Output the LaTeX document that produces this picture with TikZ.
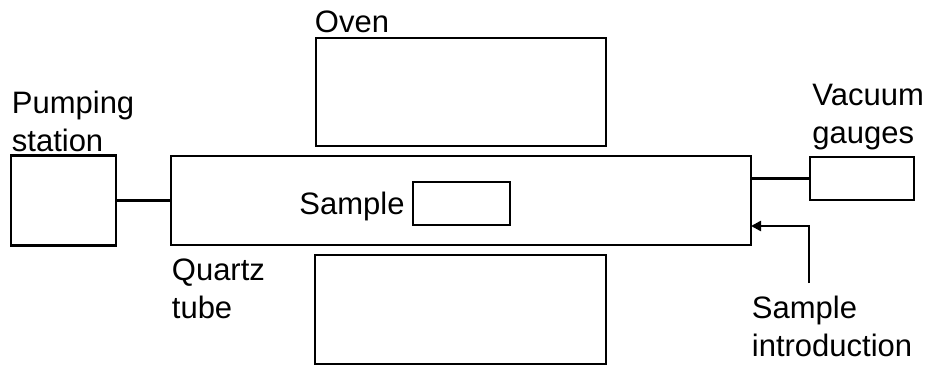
\documentclass[tikz,border=0pt]{standalone}
\usepackage{fontspec}
\setmainfont{Liberation Sans}
\usetikzlibrary{arrows.meta,calc}

\tikzset{
  part/.style={draw, line width=1.4pt, inner sep=0pt, outer sep=0pt},
  lbl/.style={inner sep=0pt, align=left, font=\fontsize{15.5}{19}\selectfont},
}

\begin{document}
\begin{tikzpicture}[x=0.5pt,y=0.5pt,line width=1.4pt]
  \useasboundingbox (0,0) rectangle (930,364);
  % boxes
  \node[part, minimum width=145pt, minimum height=54pt] (ovenA) at (461,272) {};
  \node[part, minimum width=290pt, minimum height=44.5pt] (tube) at (461,163.5) {};
  \node[part, minimum width=145.5pt, minimum height=54.5pt] (ovenB) at (460.5,54.5) {};
  \node[part, minimum width=52.5pt, minimum height=45pt] (pump) at (63.5,163.5) {};
  \node[part, minimum width=52pt, minimum height=21.5pt] (gauge) at (862,185.5) {};
  \node[part, minimum width=48.5pt, minimum height=21.5pt] (sample) at (461.5,160.5) {};
  \coordinate (intro) at (809,81);
  % labels
  \node[lbl, anchor=north west] (ovenT) at (313.5,354.5) {Oven};
  \node[lbl, anchor=north west] (pumpT) at (10.5,274.2) {Pumping\\station};
  \node[lbl, anchor=north west] (gaugeT) at (811,281.2) {Vacuum\\gauges};
  \node[lbl, anchor=north west] (tubeT) at (170.5,106.6) {Quartz\\tube};
  \node[lbl, anchor=north west] (introT) at (750.5,69.6) {Sample\\introduction};
  \node[lbl, anchor=base east] (sampleT) at (406,149) {Sample};
  % connections
  \draw (pump.east) -- (tube.west);
  \draw (gauge.west) -- (gauge.west -| tube.east);
  \draw[-{Triangle[length=5pt,width=5pt]}] (intro) |- ($(tube.east)+(0,-25.5)$);
\end{tikzpicture}
\end{document}
